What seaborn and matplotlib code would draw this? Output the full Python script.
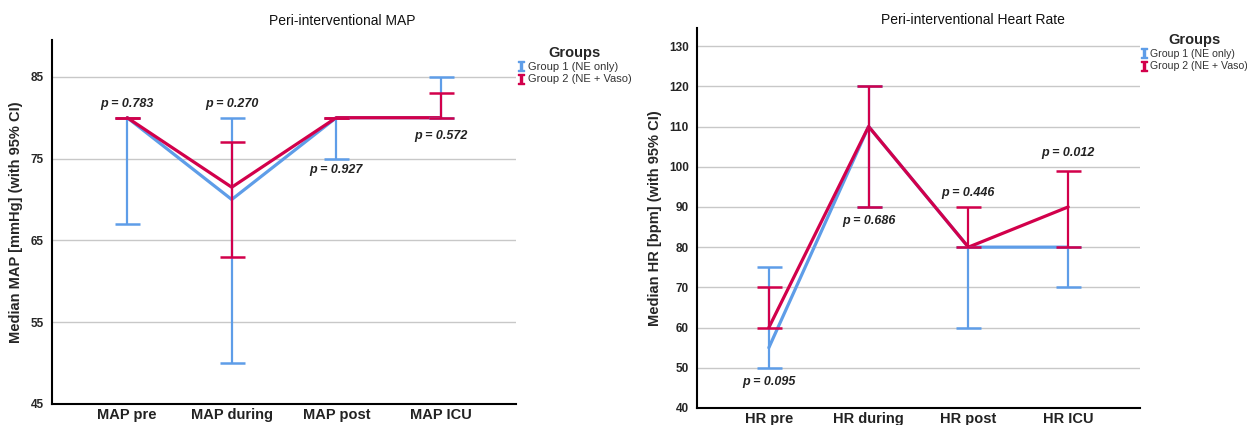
import numpy as np
import pandas as pd
import matplotlib
matplotlib.use("Agg")
import matplotlib.pyplot as plt
import seaborn as sns
from matplotlib.lines import Line2D

# ---------------- data ----------------
map_cats = ["MAP pre", "MAP during", "MAP post", "MAP ICU"]
map_g1_med = [80, 70, 80, 80]
map_g1_lo = [67, 50, 75, 80]
map_g1_hi = [80, 80, 80, 85]
map_g2_med = [80, 71.5, 80, 80]
map_g2_lo = [80, 63, 80, 80]
map_g2_hi = [80, 77, 80, 83]
map_pvals = ["p = 0.783", "p = 0.270", "p = 0.927", "p = 0.572"]
map_p_y = [81.7, 81.7, 73.6, 77.8]

hr_cats = ["HR pre", "HR during", "HR post", "HR ICU"]
hr_g1_med = [55, 110, 80, 80]
hr_g1_lo = [50, 90, 60, 70]
hr_g1_hi = [75, 120, 80, 80]
hr_g2_med = [60, 110, 80, 90]
hr_g2_lo = [60, 90, 80, 80]
hr_g2_hi = [70, 120, 90, 99]
hr_pvals = ["p = 0.095", "p = 0.686", "p = 0.446", "p = 0.012"]
hr_p_y = [46.5, 86.5, 93.5, 103.5]

groups = ["Group 1 (NE only)", "Group 2 (NE + Vaso)"]
colors = ["#5E9DE8", "#D2004B"]

sns.set_theme(style="white")
plt.rcParams["font.family"] = ["Liberation Sans", "DejaVu Sans"]
fam = ["Liberation Sans", "DejaVu Sans"]

fig = plt.figure(figsize=(12.47, 4.25), dpi=100)
W, H = 1247, 425


def make_panel(rect, cats, meds, los, his, pvals, py, ylim, yticks, ylabel,
               title, title_xy, leg_xy, leg_size):
    ax = fig.add_axes(rect)
    x = np.arange(len(cats))
    frames = []
    for g, m in zip(groups, meds):
        frames.append(pd.DataFrame({"x": x, "y": m, "group": g}))
    df = pd.concat(frames, ignore_index=True)
    sns.lineplot(data=df, x="x", y="y", hue="group", palette=colors,
                 linewidth=2.3, ax=ax, legend=False, zorder=3)
    for i, (m, lo, hi) in enumerate(zip(meds, los, his)):
        m = np.asarray(m, float)
        yerr = np.vstack([m - np.asarray(lo), np.asarray(hi) - m])
        ax.errorbar(x, m, yerr=yerr, fmt="none", ecolor=colors[i],
                    elinewidth=1.6, capsize=9, capthick=1.8, zorder=3 + i)
    for xi, (t, yy) in enumerate(zip(pvals, py)):
        ax.text(xi, yy, t, ha="center", va="center", fontsize=9,
                fontweight="bold", fontstyle="italic", color="#222222")
    ax.set_xlim(-0.72, len(cats) - 1 + 0.72)
    ax.set_ylim(*ylim)
    ax.set_yticks(yticks)
    ax.set_yticklabels([str(v) for v in yticks], fontsize=8.5,
                       fontweight="bold")
    ax.set_xticks(x)
    ax.set_xticklabels(cats, fontsize=10.5, fontweight="bold", color="#222222")
    ax.yaxis.grid(True, color="#C8C8C8", linewidth=1.0)
    ax.xaxis.grid(False)
    for s in ["top", "right"]:
        ax.spines[s].set_visible(False)
    for s in ["left", "bottom"]:
        ax.spines[s].set_color("black")
        ax.spines[s].set_linewidth(1.5)
    ax.tick_params(axis="y", length=0, pad=6)
    ax.tick_params(axis="x", length=0, pad=3)
    ax.set_xlabel("")
    ax.set_ylabel(ylabel, fontsize=10.5, fontweight="bold", labelpad=5)
    fig.text(title_xy[0] / W, 1 - title_xy[1] / H, title, ha="center",
             va="center", fontsize=10, color="#111111")
    handles = [Line2D([], [], linestyle="none", marker=r"$\mathtt{I}$",
                      markersize=7, color=c) for c in colors]
    leg = ax.legend(handles, groups, title="Groups", loc="upper left",
                    bbox_to_anchor=(leg_xy[0] / W, 1 - leg_xy[1] / H),
                    bbox_transform=fig.transFigure, frameon=False,
                    prop={"family": fam, "size": leg_size},
                    handlelength=0.6, handletextpad=0.3,
                    labelspacing=0.2, borderaxespad=0, borderpad=0)
    leg.get_title().set_fontweight("bold")
    leg.get_title().set_fontsize(10.5)
    leg._legend_box.align = "center"
    for t in leg.get_texts():
        t.set_color("#333333")
    return ax


make_panel([52 / W, 1 - 404 / H, 464 / W, 364 / H], map_cats,
           [map_g1_med, map_g2_med], [map_g1_lo, map_g2_lo],
           [map_g1_hi, map_g2_hi], map_pvals, map_p_y,
           (45, 89.5), [45, 55, 65, 75, 85],
           "Median MAP [mmHg] (with 95% CI)", "Peri-interventional MAP",
           (342, 21), (518, 46), 8)

make_panel([697 / W, 1 - 408 / H, 443 / W, 380 / H], hr_cats,
           [hr_g1_med, hr_g2_med], [hr_g1_lo, hr_g2_lo],
           [hr_g1_hi, hr_g2_hi], hr_pvals, hr_p_y,
           (40, 134.5), list(range(40, 131, 10)),
           "Median HR [bpm] (with 95% CI)", "Peri-interventional Heart Rate",
           (973, 20), (1141, 33), 7.6)

fig.savefig("out.png", dpi=100)
